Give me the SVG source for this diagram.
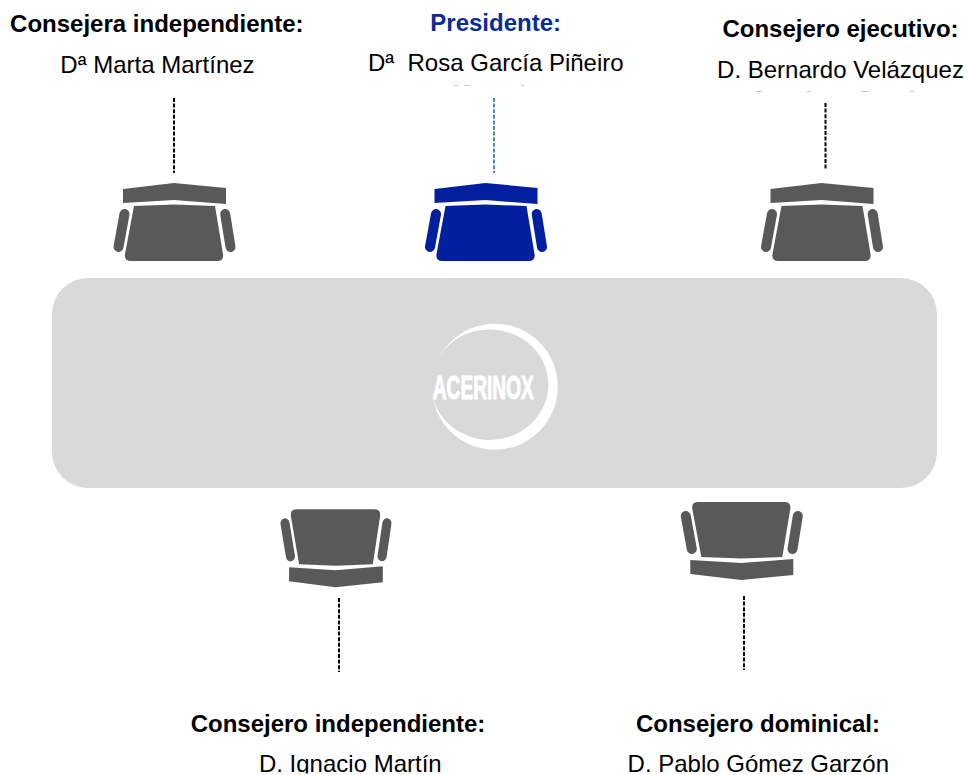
<svg xmlns="http://www.w3.org/2000/svg" width="968" height="775" viewBox="0 0 968 775">
<style>
text{font-family:"Liberation Sans",Arial,sans-serif;font-size:24px;text-anchor:middle;fill:#000}
.t{font-weight:bold}
.p{fill:#0a2a9e}
.d{stroke:#000;stroke-width:2;stroke-dasharray:4 1.600;fill:none}
.b{stroke:#4a86c8}
.g{fill:#595959;color:#595959}
.n{fill:#00209f;color:#00209f}
.f{fill:#c8c8c8}
</style>
<defs>
<g id="chair">
<path d="M-51 6L0 0L52 5V21L0 17L-51 20Z"/>
<path d="M-40 23L0 21.500L41 23L49 71Q50 78 43 78H-43Q-50 78 -49 71Z"/>
<path d="M-49.500 31L-55.500 64M51.200 31L56.500 64" fill="none" stroke="currentColor" stroke-width="10" stroke-linecap="round"/>
</g>
<clipPath id="page"><rect width="968" height="773.500"/></clipPath>
</defs>
<rect width="968" height="775" fill="#fff"/>
<g id="table">
<rect x="52" y="278" width="885" height="210" rx="36" fill="#d9d9d9"/>
<circle cx="494.800" cy="386.700" r="63" fill="#fff"/>
<ellipse cx="489.800" cy="384.700" rx="58.500" ry="55.300" fill="#d9d9d9"/>
<text x="483.300" y="399" textLength="101" lengthAdjust="spacingAndGlyphs" style="font-size:33px;font-weight:bold;fill:#fff;stroke:#fff;stroke-width:1.200">ACERINOX</text>
</g>
<g id="connectors">
<path class="d" d="M174 98V173"/>
<path class="d b" d="M494 98V173"/>
<path class="d" d="M825.500 103V169"/>
<path class="d" d="M339 598V672"/>
<path class="d" d="M744 596V670"/>
</g>
<g id="node-independiente-1">
<text class="t" x="156.800" y="31.700">Consejera independiente:</text>
<text x="157.500" y="73">Dª Marta Martínez</text>
<use href="#chair" class="g" transform="translate(174 183)"/>
</g>
<g id="node-presidente">
<text class="t p" x="495.700" y="31">Presidente:</text>
<text x="495.800" y="71">Dª&#160; Rosa García Piñeiro</text>
<rect class="f" x="454" y="85" width="4" height="1"/><rect class="f" x="464" y="85" width="6" height="1"/><rect class="f" x="521" y="85" width="3" height="1"/>
<use href="#chair" class="n" transform="translate(485.500 183)"/>
</g>
<g id="node-ejecutivo">
<text class="t" x="840.500" y="37.300">Consejero ejecutivo:</text>
<text x="840.500" y="78.300">D. Bernardo Velázquez</text>
<rect class="f" x="756" y="91" width="6" height="1"/><rect class="f" x="807" y="91" width="4" height="1"/><rect class="f" x="861" y="91" width="8" height="1"/><rect class="f" x="910" y="91" width="4" height="1"/>
<use href="#chair" class="g" transform="translate(821.500 183)"/>
</g>
<g id="node-independiente-2">
<text class="t" x="338" y="731.700">Consejero independiente:</text>
<text x="350.300" y="771.700" clip-path="url(#page)">D. Ignacio Martín</text>
<use href="#chair" class="g" transform="translate(335.500 587.300) scale(.91 -1)"/>
</g>
<g id="node-dominical">
<text class="t" x="758" y="731.700">Consejero dominical:</text>
<text x="758.300" y="771.700">D. Pablo Gómez Garzón</text>
<use href="#chair" class="g" transform="translate(741.300 580) scale(1 -1)"/>
</g>
</svg>
